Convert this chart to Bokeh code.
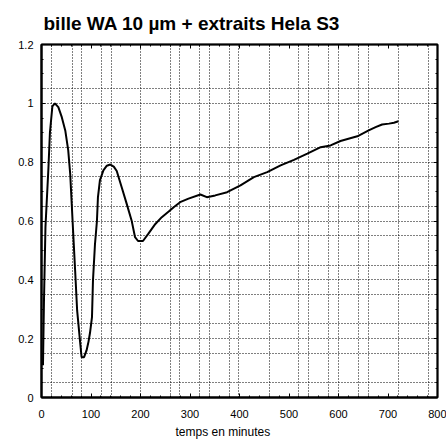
from bokeh.plotting import figure
from bokeh.models import FixedTicker, LinearAxis, Range1d, Title, CustomJSTickFormatter
from bokeh.embed import file_html
from bokeh.resources import INLINE

# ---- data ----
t_min = [3, 5, 8, 14, 17, 22, 27, 34, 41, 48, 54, 58, 64, 68, 72, 78, 81, 86,
         91, 95, 98, 102, 104, 108, 112, 114, 118, 125, 132, 139, 146, 152,
         162, 172, 182, 189, 195, 205, 216, 230, 243, 257, 267, 280, 297, 321,
         334, 351, 375, 402, 429, 456, 483, 510, 537, 564, 584, 604, 638, 661,
         675, 688, 702, 712, 721]
signal = [0.11, 0.33, 0.58, 0.78, 0.90, 0.99, 1.00, 0.987, 0.953, 0.908, 0.84,
          0.76, 0.56, 0.43, 0.296, 0.188, 0.137, 0.137, 0.16, 0.19, 0.22, 0.273,
          0.398, 0.52, 0.60, 0.68, 0.738, 0.772, 0.788, 0.792, 0.785, 0.77,
          0.715, 0.659, 0.602, 0.545, 0.532, 0.532, 0.557, 0.59, 0.613, 0.632,
          0.647, 0.664, 0.676, 0.69, 0.681, 0.687, 0.698, 0.721, 0.749, 0.766,
          0.789, 0.808, 0.829, 0.851, 0.857, 0.872, 0.888, 0.908, 0.919, 0.928,
          0.931, 0.934, 0.939]

x_ticks = [0, 100, 200, 300, 400, 500, 600, 700, 800]
x_tick_labels = ["0", "100", "200", "300", "400", "500", "600", "700", "800"]
y_ticks = [0, 0.2, 0.4, 0.6, 0.8, 1.0, 1.2]
y_tick_labels = ["0", "0.2", "0.4", "0.6", "0.8", "1", "1.2"]
x_minor = list(range(0, 801, 20))
y_minor = [i / 20 for i in range(25)]

grid_x = [20, 62, 80, 122, 141, 201, 260, 278, 319, 339, 380, 398, 460, 519,
          539, 579, 600, 640, 660, 721, 782]
grid_y = [0.05, 0.15, 0.2, 0.25, 0.35, 0.4, 0.45, 0.55, 0.6, 0.65, 0.75, 0.8,
          0.85, 1.0, 1.05]

title_text = "bille WA 10 µm + extraits Hela S3"
xlabel_text = "temps en minutes"

FONT = "Liberation Sans"

p = figure(width=446, height=444, output_backend="svg", toolbar_location=None,
           x_range=Range1d(0, 800), y_range=Range1d(0, 1.2),
           min_border_left=41, min_border_right=9, min_border_top=44,
           min_border_bottom=47)
p.background_fill_color = "white"
p.border_fill_color = "white"
p.outline_line_color = "black"
p.outline_line_width = 2

p.title = Title(text=title_text, align="left", offset=2, standoff=21,
                text_font=FONT, text_font_size="19px", text_font_style="bold",
                text_color="black")

# grid
p.xgrid.ticker = FixedTicker(ticks=grid_x)
p.ygrid.ticker = FixedTicker(ticks=grid_y)
for g in (p.xgrid, p.ygrid):
    g.grid_line_color = "black"
    g.grid_line_dash = "1 2"
    g.grid_line_width = 1

def style_axis(ax):
    ax.axis_line_color = "black"
    ax.axis_line_width = 2
    ax.major_tick_in = 4
    ax.major_tick_out = 0
    ax.minor_tick_in = 2
    ax.minor_tick_out = 0
    ax.major_tick_line_color = "black"
    ax.minor_tick_line_color = "black"
    ax.major_label_text_font = FONT
    ax.major_label_text_font_size = "11px"
    ax.major_label_text_color = "black"

p.xaxis.ticker = FixedTicker(ticks=x_ticks, minor_ticks=x_minor)
p.xaxis.major_label_overrides = {v: s for v, s in zip(x_ticks, x_tick_labels)}
p.yaxis.ticker = FixedTicker(ticks=y_ticks, minor_ticks=y_minor)
p.yaxis.major_label_overrides = {v: s for v, s in zip(y_ticks, y_tick_labels)}
style_axis(p.xaxis[0])
style_axis(p.yaxis[0])
p.xaxis.major_label_standoff = 12
p.yaxis.major_label_standoff = 8

# x axis title placed under the axis
p.add_layout(Title(text=xlabel_text, align="left", offset=134, standoff=4,
                   text_font=FONT, text_font_size="12px",
                   text_font_style="normal", text_color="black"), "below")

# mirrored ticks on top and right, without labels
blank = CustomJSTickFormatter(code="return ''")
top = LinearAxis(ticker=FixedTicker(ticks=x_ticks, minor_ticks=x_minor), formatter=blank)
right = LinearAxis(ticker=FixedTicker(ticks=y_ticks, minor_ticks=y_minor), formatter=blank)
style_axis(top)
style_axis(right)
top.axis_line_width = 1.5
right.axis_line_width = 1.5
p.add_layout(top, "above")
p.add_layout(right, "right")

p.line(t_min, signal, line_color="black", line_width=2)

open("out.html", "w").write(file_html(p, INLINE))
